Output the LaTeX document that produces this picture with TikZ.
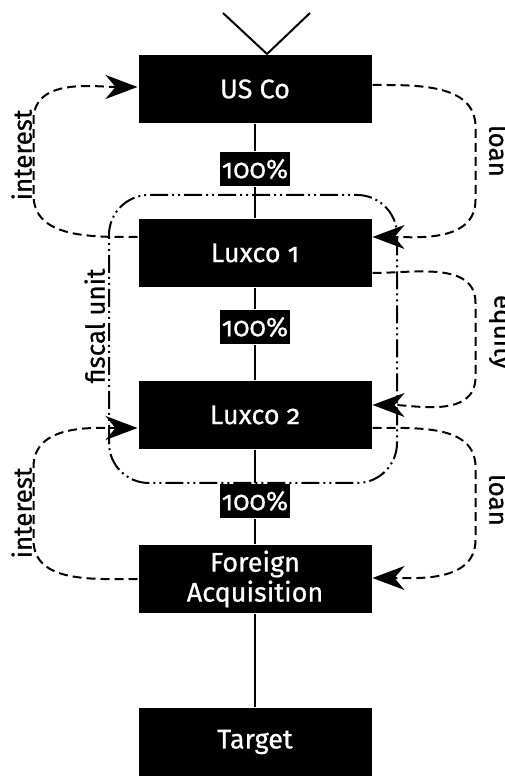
\documentclass[tikz,border=0pt]{standalone}
\usepackage{fontspec}
\setmainfont{Fira Sans}[Numbers=OldStyle, FakeBold=0.7]
\usetikzlibrary{arrows.meta}

\begin{document}
\begin{tikzpicture}[x=0.5pt, y=0.5pt, line width=1pt,
  entity/.style={fill=black, text=white, minimum width=116.5pt, minimum height=34pt, inner sep=0pt, align=center, font=\fontsize{13.5}{15}\selectfont},
  share/.style={fill=black, text=white, minimum width=35pt, minimum height=17pt, inner sep=1pt, font=\fontsize{13.5}{15}\selectfont},
  flow/.style={dash pattern=on 4.5pt off 2.5pt, -{Stealth[length=16pt, width=12pt, inset=5pt]}},
  fiscal/.style={dash pattern=on 9pt off 2pt on 1pt off 2pt on 1pt off 2pt, rounded corners=20pt},
  tag/.style={font=\fontsize{13}{15}\selectfont, inner sep=1pt, anchor=south}]
\useasboundingbox (0, 0) rectangle (504, 776);
\draw[fiscal] (109, 293) rectangle (397, 581);
\node[tag, rotate=90] (fu) at (108, 450) {fiscal unit};

\node[entity] (usco) at (255, 687) {US Co};
\node[entity] (lux1) at (255, 523) {Luxco 1};
\node[entity] (lux2) at (255, 361) {Luxco 2};
\node[entity] (facq) at (255, 197) {Foreign\\Acquisition};
\node[entity] (target) at (255, 34) {Target};
\node[share] (p1) at (255, 607) {100\%};
\node[share] (p2) at (255, 449) {100\%};
\node[share] (p3) at (255, 275) {100\%};

\draw (usco) -- (p1) -- (lux1) -- (p2) -- (lux2) -- (p3) -- (facq) -- (target);
\coordinate (vl) at (223, 763);
\coordinate (vr) at (310, 763);
\draw (vl) -- ([xshift=6pt]usco.north) -- (vr);

\draw[flow] ([yshift=8pt]lux1.west) to[out=180, in=-90] ++(-104, 42) -- ++(0, 75) to[out=90, in=180] ([yshift=1pt]usco.west);
\draw[flow] ([yshift=2pt]usco.east) to[out=0, in=90] ++(103, -42) -- ++(0, -73) to[out=-90, in=0] ([yshift=8pt]lux1.east);
\draw[flow] ([yshift=-10pt]lux1.east) to[out=0, in=90] ++(103, -30) -- ++(0, -74) to[out=-90, in=0] ([yshift=5pt]lux2.east);
\draw[flow] ([yshift=-6.5pt]lux2.east) to[out=0, in=90] ++(103, -39) -- ++(0, -73) to[out=-90, in=0] ([yshift=0.5pt]facq.east);
\draw[flow] (facq.west) to[out=180, in=-90] ++(-104, 39) -- ++(0, 73) to[out=90, in=180] ([yshift=-6.5pt]lux2.west);

\node[tag, rotate=90] (int1) at (35, 621) {interest};
\node[tag, rotate=90] (int2) at (35, 263) {interest};
\node[tag, rotate=-90] (loan1) at (486, 625) {loan};
\node[tag, rotate=-90] (eq) at (486, 444) {equity};
\node[tag, rotate=-90] (loan2) at (486, 276) {loan};
\end{tikzpicture}
\end{document}
